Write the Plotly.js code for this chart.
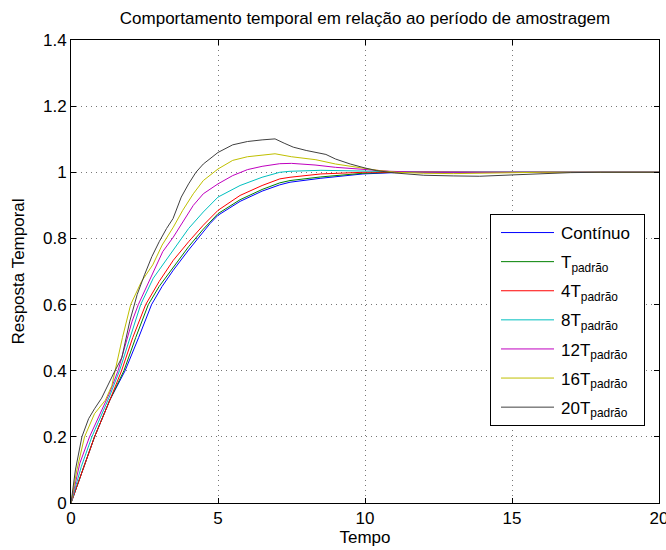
<!DOCTYPE html>
<html>
<head>
<meta charset="utf-8">
<script src="https://cdn.plot.ly/plotly-3.0.1.min.js"></script>
<style>html,body{margin:0;padding:0;background:#fff;}#chart{width:666px;height:550px;}</style>
</head>
<body>
<div id="chart"></div>
<script>
// Series names
const seriesNames = ["Contínuo", "T<sub>padrão</sub>", "4T<sub>padrão</sub>", "8T<sub>padrão</sub>", "12T<sub>padrão</sub>", "16T<sub>padrão</sub>", "20T<sub>padrão</sub>"];

// Contínuo
const tCont = [0,0.4,0.8,1.32,1.84,2.3,2.74,3.1,3.48,4,4.32,4.73,5,5.75,6.5,7.1,7.45,8.5,9.93,11,12,14,17,20];
const vCont = [0,0.1,0.2,0.311,0.4,0.5,0.6,0.655,0.704,0.765,0.8,0.845,0.87,0.912,0.943,0.962,0.97,0.982,0.995,0.999,1,1,1,1];

// T padrão
const tT1 = [0,0.4,0.8,1.32,1.8,2.2,2.63,3,3.48,4,4.5,5,5.75,6.5,7.1,7.45,8.5,9.93,11,12,14,20];
const vT1 = [0,0.1,0.2,0.311,0.4,0.5,0.6,0.655,0.714,0.775,0.828,0.875,0.917,0.948,0.968,0.975,0.986,0.997,1,1,1,1];

// 4T padrão
const tT4 = [0,0.4,0.8,1.32,1.72,2.1,2.54,3,3.48,4,4.5,5,5.75,6.5,7.1,7.45,8.5,9.93,11,12,14,20];
const vT4 = [0,0.1,0.2,0.311,0.4,0.5,0.6,0.67,0.734,0.79,0.84,0.885,0.93,0.96,0.98,0.985,0.995,1,1.001,1.001,1,1];

// 8T padrão
const tT8 = [0,0.35,0.71,1.0,1.3,1.65,2.0,2.37,2.8,3.2,3.48,4,4.5,5,5.75,6.5,7.1,7.45,8.5,9.93,11,12,14,20];
const vT8 = [0,0.11,0.2,0.26,0.32,0.4,0.5,0.6,0.68,0.73,0.764,0.83,0.88,0.925,0.96,0.985,1,1.003,1.006,1.005,1.002,1,1,1];

// 12T padrão
const tT12 = [0,0.3,0.63,1.04,1.3,1.6,2.08,2.29,2.6,3.12,3.48,4.16,4.5,5,5.5,6,6.5,7.1,7.5,8.3,9,9.93,10.85,12,14,20];
const vT12 = [0,0.12,0.2,0.28,0.33,0.4,0.55,0.6,0.66,0.76,0.804,0.9,0.935,0.965,0.99,1.008,1.018,1.026,1.027,1.022,1.015,1.01,1.003,1,1,1];

// 16T padrão
const tT16 = [0,0.2,0.46,0.8,1.17,1.39,1.5,1.75,2.03,2.4,2.78,3.1,3.48,3.8,4.16,4.5,5,5.5,6,6.5,6.94,7.5,8.33,9,9.72,10.5,11.1,12,13,14,15,16,20];
const vT16 = [0,0.1,0.2,0.27,0.311,0.355,0.4,0.5,0.6,0.67,0.72,0.78,0.834,0.885,0.935,0.975,1.01,1.036,1.047,1.053,1.056,1.047,1.038,1.025,1.015,1.005,1.0,0.997,0.996,0.997,0.999,1,1];

// 20T padrão
const tT20 = [0,0.15,0.37,0.6,0.8,1.04,1.44,1.73,2.0,2.25,2.5,2.75,3.0,3.25,3.47,3.75,4.0,4.25,4.5,5,5.5,6,6.5,6.94,7.25,7.56,8,8.67,9,9.5,10,10.4,11,12,13,13.9,15,16,17,18,20];
const vT20 = [0,0.1,0.2,0.255,0.285,0.317,0.39,0.44,0.55,0.63,0.69,0.745,0.79,0.83,0.86,0.925,0.965,1.0,1.025,1.06,1.083,1.093,1.098,1.101,1.088,1.076,1.066,1.054,1.04,1.025,1.013,1.005,0.998,0.991,0.989,0.988,0.992,0.996,0.999,1,1];

// Axis ticks
const xTicks = [0, 5, 10, 15, 20];
const yTicks = [0, 0.2, 0.4, 0.6, 0.8, 1, 1.2, 1.4];

const xs = [tCont, tT1, tT4, tT8, tT12, tT16, tT20];
const ys = [vCont, vT1, vT4, vT8, vT12, vT16, vT20];
const colors = ["#0000FF", "#008000", "#FF0000", "#00BFBF", "#BF00BF", "#BFBF00", "#404040"];

const traces = xs.map((x, i) => ({
  x: x, y: ys[i], type: "scatter", mode: "lines",
  name: seriesNames[i],
  legendgroup: "g" + i,
  line: {color: colors[i], width: 1},
  hoverinfo: "skip"
}));

const FONT = "Liberation Sans, Arial, Helvetica, sans-serif";
const axisCommon = {
  showline: true, linecolor: "#000", linewidth: 1, mirror: "ticks",
  ticks: "inside", ticklen: 5, tickwidth: 1, tickcolor: "#000",
  showgrid: true, gridcolor: "#777", gridwidth: 1, griddash: "1px,4px",
  zeroline: false, ticklabeloverflow: "allow",
  tickfont: {family: FONT, size: 17, color: "#000"}
};

const layout = {
  width: 666, height: 550,
  margin: {l: 71, r: 7, t: 40, b: 47, pad: 0},
  paper_bgcolor: "#fff", plot_bgcolor: "#fff",
  font: {family: FONT, size: 17, color: "#000"},
  title: {text: "Comportamento temporal em relação ao período de amostragem",
          font: {family: FONT, size: 17, color: "#000"},
          x: 0.5, xref: "paper", y: 1 - 18/550, yref: "container", yanchor: "middle"},
  xaxis: Object.assign({}, axisCommon, {
    range: [0, 20], tickmode: "array", tickvals: xTicks, ticktext: xTicks.map(String),
    title: {text: "Tempo", font: {family: FONT, size: 17, color: "#000"}, standoff: 3}
  }),
  yaxis: Object.assign({}, axisCommon, {
    range: [0, 1.4], tickmode: "array", tickvals: yTicks, ticktext: yTicks.map(String),
    title: {text: "Resposta Temporal", font: {family: FONT, size: 17, color: "#000"}, standoff: 14}
  }),
  showlegend: true,
  legend: {
    x: (490 - 71) / 588, y: (503 - 214) / 463, xanchor: "left", yanchor: "top",
    bgcolor: "#fff", bordercolor: "#000", borderwidth: 1,
    font: {family: FONT, size: 17, color: "#000"},
    itemwidth: 60,
    traceorder: "grouped", tracegroupgap: 4
  }
};

Plotly.newPlot("chart", traces, layout, {staticPlot: true, displayModeBar: false}).then(gd => {
  // lengthen the legend line samples to match the reference style
  gd.querySelectorAll(".legend .legendlines path").forEach(p => p.setAttribute("d", "M10,0h53"));
  // widen the legend box slightly, as in the reference
  const bg = gd.querySelector(".legend rect.bg");
  if (bg) bg.setAttribute("width", (parseFloat(bg.getAttribute("width")) + 9).toString());
});
</script>
</body>
</html>
